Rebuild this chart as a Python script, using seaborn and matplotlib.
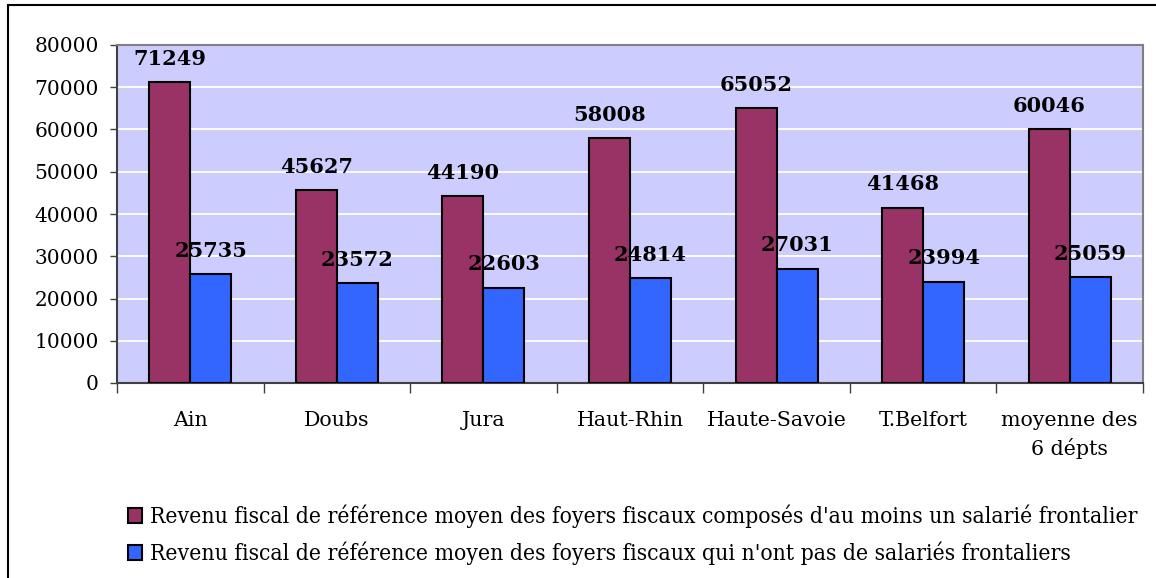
import matplotlib
matplotlib.use("Agg")
import matplotlib.pyplot as plt
import seaborn as sns
import pandas as pd
import numpy as np
from matplotlib.patches import Rectangle

# Données
departements = ['Ain', 'Doubs', 'Jura', 'Haut-Rhin', 'Haute-Savoie', 'T.Belfort',
                'moyenne des\n6 dépts']
avec_frontalier = [71249, 45627, 44190, 58008, 65052, 41468, 60046]
sans_frontalier = [25735, 23572, 22603, 24814, 27031, 23994, 25059]
series = ["Revenu fiscal de référence moyen des foyers fiscaux composés d'au moins un salarié frontalier",
          "Revenu fiscal de référence moyen des foyers fiscaux qui n'ont pas de salariés frontaliers"]
couleurs = ['#993366', '#3366FF']

df = pd.DataFrame({
    'dept': departements * 2,
    'valeur': avec_frontalier + sans_frontalier,
    'serie': [series[0]] * len(departements) + [series[1]] * len(departements),
})

sns.set_style('white')
plt.rcParams['font.family'] = ['DejaVu Serif']
plt.rcParams['text.color'] = 'black'
plt.rcParams['xtick.color'] = 'black'
plt.rcParams['ytick.color'] = 'black'

fig = plt.figure(figsize=(11.56, 5.78), dpi=100)
ax = fig.add_axes([117 / 1156, 1 - 383 / 578, (1143 - 117) / 1156, (383 - 45) / 578])
ax.set_facecolor('#CCCCFF')

sns.barplot(data=df, x='dept', y='valeur', hue='serie', palette=couleurs,
            width=0.56, gap=0, edgecolor='black', linewidth=1.5, saturation=1,
            ax=ax, zorder=3)

ax.set_ylim(0, 80000)
ax.set_xlim(-0.5, len(departements) - 0.5)
ax.set_yticks(np.arange(0, 80001, 10000))
ax.yaxis.grid(True, color='white', linewidth=1.3, zorder=0)
ax.set_axisbelow(True)
ax.set_xlabel('')
ax.set_ylabel('')

# étiquettes de valeurs
for cont in ax.containers:
    for bar in cont:
        h = bar.get_height()
        ax.annotate(f'{int(round(h))}', (bar.get_x() + bar.get_width() / 2, h),
                    xytext=(0, 12.5), textcoords='offset points', ha='center', va='baseline',
                    fontsize=15, fontweight='bold', color='black', zorder=5)

ax.tick_params(axis='y', direction='out', length=5, width=1, color='#404040',
               labelsize=14.5, labelcolor='black', pad=8, left=True)
ax.set_xticks(np.arange(len(departements)))
ax.set_xticklabels(departements, fontsize=14.8, linespacing=1.5, color='black')
ax.tick_params(axis='x', which='major', length=0, pad=20)
ax.set_xticks(np.arange(-0.5, len(departements), 1), minor=True)
ax.tick_params(axis='x', which='minor', direction='out', length=7, width=1, color='#404040', bottom=True)

for side in ['left', 'bottom']:
    ax.spines[side].set_color('#404040')
    ax.spines[side].set_linewidth(1.5)
for side in ['top', 'right']:
    ax.spines[side].set_color('#808080')
    ax.spines[side].set_linewidth(1.5)

handles, labels = ax.get_legend_handles_labels()
ax.legend_.remove()
fig.legend(handles, labels, loc='center left', bbox_to_anchor=(128 / 1156, 1 - 535 / 578),
           frameon=False, prop={'size': 16.4, 'family': 'DejaVu Serif', 'stretch': 'condensed'},
           handlelength=0.62, handleheight=0.62, handletextpad=0.35, labelspacing=0.6,
           borderpad=0, borderaxespad=0)

# cadre extérieur
fig.patches.append(Rectangle((8 / 1156, -0.2), 1.5, 1.2 - 5 / 578, transform=fig.transFigure,
                             fill=False, edgecolor='black', linewidth=1.5))

fig.savefig('out.png', dpi=100)
